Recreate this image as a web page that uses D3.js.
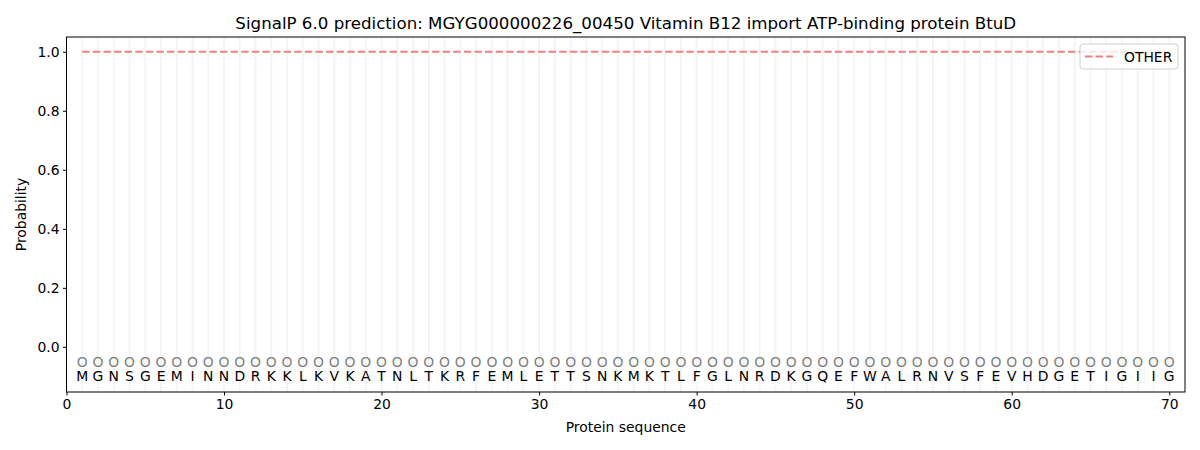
<!DOCTYPE html>
<html>
<head>
<meta charset="utf-8">
<script src="https://cdn.jsdelivr.net/npm/d3@7"></script>
<style>
  body { margin: 0; background: #fff; }
  svg text { font-family: "DejaVu Sans", sans-serif; }
</style>
</head>
<body>
<svg id="chart"></svg>
<script>
// sequence residues, one per position 1..70
const residues = "MGNSGEMINNDRKKLKVKATNLTKRFEMLETTSNKMKTLFGLNRDKGQEFWALRNVSFEVHDGETIGIIG".split("");
// predicted label per residue (O = other)
const labels = residues.map(() => "O");
// probability of OTHER per position
const otherProb = [
  1,1,1,1,1,1,1,1,1,1, 1,1,1,1,1,1,1,1,1,1,
  1,1,1,1,1,1,1,1,1,1, 1,1,1,1,1,1,1,1,1,1,
  1,1,1,1,1,1,1,1,1,1, 1,1,1,1,1,1,1,1,1,1,
  1,1,1,1,1,1,1,1,1,1
];
const xTicks = [0, 10, 20, 30, 40, 50, 60, 70];
const yTicks = [0.0, 0.2, 0.4, 0.6, 0.8, 1.0];

const W = 1200, H = 450;
const margin = { top: 37, right: 15, bottom: 58, left: 66.5 };
const width = W - margin.left - margin.right;
const height = H - margin.top - margin.bottom;
const fs = 13.9;

const svg = d3.select("#chart").attr("width", W).attr("height", H);
const chart = svg.append("g").attr("transform", `translate(${margin.left},${margin.top})`);

const x = d3.scaleLinear().domain([0, 71]).range([0, width]);
const y = d3.scaleLinear().domain([-0.153, 1.05]).range([height, 0]);

// light vertical grid at each residue
chart.append("g").selectAll("line")
  .data(residues)
  .join("line")
  .attr("x1", (d, i) => x(i + 1)).attr("x2", (d, i) => x(i + 1))
  .attr("y1", 0).attr("y2", height)
  .attr("stroke", "#f4f4f4").attr("stroke-width", 1.8);

// OTHER probability line
const line = d3.line().x((d, i) => x(i + 1)).y(d => y(d));
chart.append("path")
  .datum(otherProb)
  .attr("fill", "none")
  .attr("stroke", "#f08080")
  .attr("stroke-width", 2)
  .attr("stroke-dasharray", "7.4,3.2")
  .attr("d", line);

// label glyphs
chart.append("g").selectAll("text")
  .data(labels)
  .join("text")
  .attr("x", (d, i) => x(i + 1))
  .attr("y", y(-0.05))
  .attr("dy", "0.36em")
  .attr("text-anchor", "middle")
  .attr("font-size", fs)
  .attr("fill", "#808080")
  .text(d => d);

// residue letters
chart.append("g").selectAll("text")
  .data(residues)
  .join("text")
  .attr("x", (d, i) => x(i + 1))
  .attr("y", y(-0.1))
  .attr("dy", "0.36em")
  .attr("text-anchor", "middle")
  .attr("font-size", fs)
  .attr("fill", "#000")
  .text(d => d);

// axes
const xAxis = d3.axisBottom(x).tickValues(xTicks).tickFormat(d3.format("d")).tickSize(3.5).tickPadding(3.5);
const yAxis = d3.axisLeft(y).tickValues(yTicks).tickFormat(d3.format(".1f")).tickSize(3.5).tickPadding(3.5);

const xg = chart.append("g").attr("transform", `translate(0,${height})`).call(xAxis);
const yg = chart.append("g").call(yAxis);
[xg, yg].forEach(g => {
  g.select(".domain").remove();
  g.selectAll("text").attr("font-size", fs).attr("font-family", "DejaVu Sans, sans-serif").attr("fill", "#000");
  g.selectAll("line").attr("stroke", "#000").attr("stroke-width", 1);
});

// frame
chart.append("rect")
  .attr("width", width).attr("height", height)
  .attr("fill", "none").attr("stroke", "#000").attr("stroke-width", 1);

// axis labels and title
svg.append("text")
  .attr("x", margin.left + width / 2).attr("y", 432)
  .attr("text-anchor", "middle").attr("font-size", fs)
  .text("Protein sequence");

svg.append("text")
  .attr("transform", `translate(26,${margin.top + height / 2}) rotate(-90)`)
  .attr("text-anchor", "middle").attr("font-size", fs)
  .text("Probability");

svg.append("text")
  .attr("x", margin.left + width / 2).attr("y", 29)
  .attr("text-anchor", "middle").attr("font-size", 16.67)
  .text("SignalP 6.0 prediction: MGYG000000226_00450 Vitamin B12 import ATP-binding protein BtuD");

// legend
const lg = svg.append("g").attr("transform", `translate(${margin.left + width - 105},${margin.top + 7})`);
lg.append("rect")
  .attr("width", 98).attr("height", 25).attr("rx", 3)
  .attr("fill", "rgba(255,255,255,0.8)").attr("stroke", "#d0d0d0");
lg.append("line")
  .attr("x1", 5).attr("x2", 33).attr("y1", 12.5).attr("y2", 12.5)
  .attr("stroke", "#f08080").attr("stroke-width", 2).attr("stroke-dasharray", "7.4,3.2");
lg.append("text")
  .attr("x", 44).attr("y", 12.5).attr("dy", "0.36em")
  .attr("font-size", fs).text("OTHER");
</script>
</body>
</html>
